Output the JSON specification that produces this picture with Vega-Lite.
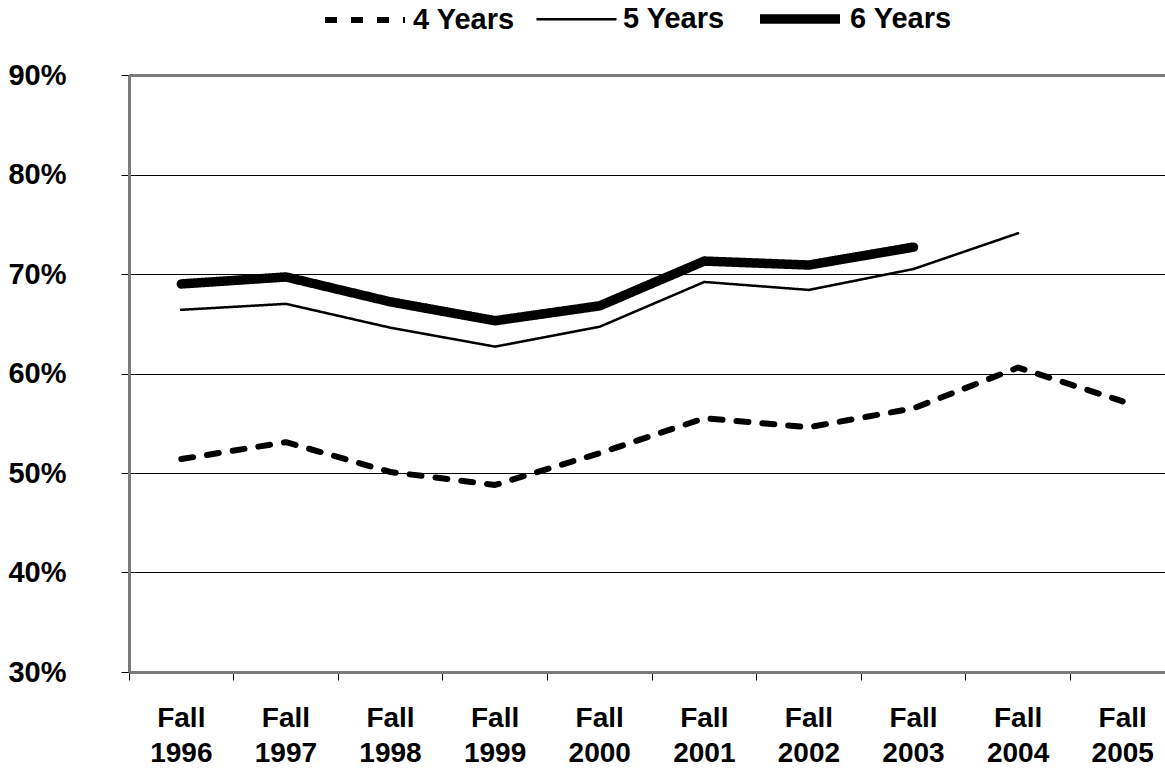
{
  "$schema": "https://vega.github.io/schema/vega-lite/v6.json",
  "width": 1036,
  "height": 597,
  "autosize": "none",
  "padding": {"left": 129, "top": 75, "right": 0, "bottom": 97},
  "background": "white",
  "config": {
    "view": {"stroke": null},
    "font": "Liberation Sans"
  },
  "data": {
    "values": [
      {"year": "Fall 1996", "series": "4 Years", "rate": 0.514},
      {"year": "Fall 1997", "series": "4 Years", "rate": 0.531},
      {"year": "Fall 1998", "series": "4 Years", "rate": 0.501},
      {"year": "Fall 1999", "series": "4 Years", "rate": 0.488},
      {"year": "Fall 2000", "series": "4 Years", "rate": 0.520},
      {"year": "Fall 2001", "series": "4 Years", "rate": 0.555},
      {"year": "Fall 2002", "series": "4 Years", "rate": 0.546},
      {"year": "Fall 2003", "series": "4 Years", "rate": 0.565},
      {"year": "Fall 2004", "series": "4 Years", "rate": 0.606},
      {"year": "Fall 2005", "series": "4 Years", "rate": 0.572},
      {"year": "Fall 1996", "series": "5 Years", "rate": 0.664},
      {"year": "Fall 1997", "series": "5 Years", "rate": 0.670},
      {"year": "Fall 1998", "series": "5 Years", "rate": 0.646},
      {"year": "Fall 1999", "series": "5 Years", "rate": 0.627},
      {"year": "Fall 2000", "series": "5 Years", "rate": 0.647},
      {"year": "Fall 2001", "series": "5 Years", "rate": 0.692},
      {"year": "Fall 2002", "series": "5 Years", "rate": 0.684},
      {"year": "Fall 2003", "series": "5 Years", "rate": 0.705},
      {"year": "Fall 2004", "series": "5 Years", "rate": 0.741},
      {"year": "Fall 1996", "series": "6 Years", "rate": 0.690},
      {"year": "Fall 1997", "series": "6 Years", "rate": 0.697},
      {"year": "Fall 1998", "series": "6 Years", "rate": 0.672},
      {"year": "Fall 1999", "series": "6 Years", "rate": 0.653},
      {"year": "Fall 2000", "series": "6 Years", "rate": 0.668},
      {"year": "Fall 2001", "series": "6 Years", "rate": 0.713},
      {"year": "Fall 2002", "series": "6 Years", "rate": 0.709},
      {"year": "Fall 2003", "series": "6 Years", "rate": 0.727}
    ]
  },
  "mark": {"type": "line", "strokeCap": "round", "strokeJoin": "round"},
  "encoding": {
    "x": {
      "field": "year",
      "type": "nominal",
      "sort": null,
      "scale": {"type": "band", "range": [0, 1046], "paddingInner": 0, "paddingOuter": 0},
      "axis": {
        "title": null,
        "labelAngle": 0,
        "labelExpr": "split(datum.label, ' ')",
        "labelFontSize": 28,
        "labelFontWeight": "bold",
        "labelColor": "black",
        "labelLineHeight": 35,
        "labelPadding": 24,
        "labelBaseline": "top",
        "labelOverlap": false,
        "bandPosition": 0,
        "ticks": true,
        "tickSize": 8,
        "tickColor": "black",
        "tickWidth": 1,
        "domain": true,
        "domainColor": "#7a7a7a",
        "domainWidth": 3,
        "grid": false
      }
    },
    "y": {
      "field": "rate",
      "type": "quantitative",
      "scale": {"domain": [0.3, 0.9], "nice": false, "zero": false},
      "axis": {
        "title": null,
        "values": [0.3, 0.4, 0.5, 0.6, 0.7, 0.8, 0.9],
        "format": ".0%",
        "labelFontSize": 29,
        "labelFontWeight": "bold",
        "labelColor": "black",
        "labelPadding": 55,
        "labelOverlap": false,
        "tickSize": 8,
        "tickColor": "black",
        "tickWidth": 1,
        "domain": true,
        "domainColor": "#7a7a7a",
        "domainWidth": 3,
        "grid": true,
        "gridColor": {"condition": {"test": "datum.value >= 0.89", "value": "#7a7a7a"}, "value": "black"},
        "gridWidth": {"condition": {"test": "datum.value >= 0.89", "value": 3}, "value": 1},
        "gridOpacity": {"condition": {"test": "datum.value <= 0.31", "value": 0}, "value": 1}
      }
    },
    "color": {
      "field": "series",
      "type": "nominal",
      "scale": {"domain": ["4 Years", "5 Years", "6 Years"], "range": ["black", "black", "black"]},
      "legend": {
        "title": null,
        "orient": "none",
        "direction": "horizontal",
        "legendX": 193,
        "legendY": -101,
        "symbolType": "stroke",
        "symbolSize": 6400,
        "labelFontSize": 29,
        "labelFontWeight": "bold",
        "labelColor": "black",
        "labelOffset": 5,
        "columnPadding": 16
      }
    },
    "strokeDash": {
      "field": "series",
      "type": "nominal",
      "scale": {"domain": ["4 Years", "5 Years", "6 Years"], "range": [[12, 14], [1, 0], [1, 0]]}
    },
    "strokeWidth": {
      "field": "series",
      "type": "nominal",
      "scale": {"type": "ordinal", "domain": ["4 Years", "5 Years", "6 Years"], "range": [6, 2.5, 9.5]}
    }
  }
}
